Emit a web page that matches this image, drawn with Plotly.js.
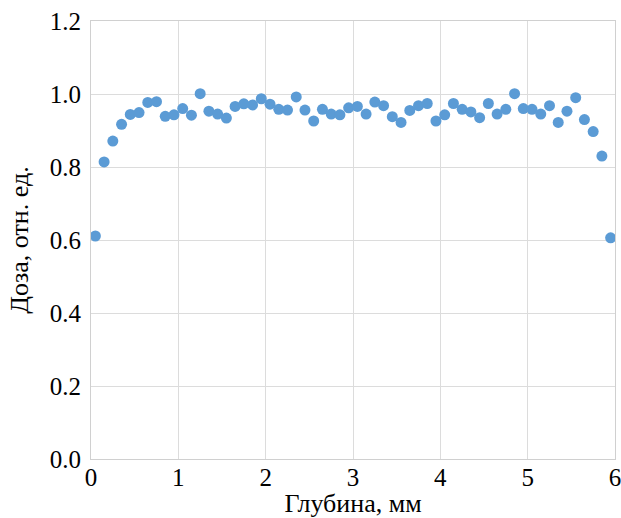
<!DOCTYPE html>
<html>
<head>
<meta charset="utf-8">
<script src="https://cdn.plot.ly/plotly-3.0.1.min.js"></script>
<style>html,body{margin:0;padding:0;background:#fff;}</style>
</head>
<body>
<div id="chart" style="width:621px;height:518px;"></div>
<script>
const depth = [0.05,0.15,0.25,0.35,0.45,0.55,0.65,0.75,0.85,0.95,
  1.05,1.15,1.25,1.35,1.45,1.55,1.65,1.75,1.85,1.95,
  2.05,2.15,2.25,2.35,2.45,2.55,2.65,2.75,2.85,2.95,
  3.05,3.15,3.25,3.35,3.45,3.55,3.65,3.75,3.85,3.95,
  4.05,4.15,4.25,4.35,4.45,4.55,4.65,4.75,4.85,4.95,
  5.05,5.15,5.25,5.35,5.45,5.55,5.65,5.75,5.85,5.95];
const dose = [0.611,0.814,0.871,0.917,0.944,0.949,0.977,0.979,0.939,0.943,
  0.960,0.942,1.001,0.953,0.945,0.934,0.966,0.973,0.970,0.987,
  0.972,0.958,0.956,0.992,0.956,0.926,0.958,0.945,0.943,0.962,
  0.966,0.945,0.978,0.968,0.938,0.922,0.955,0.968,0.974,0.926,
  0.943,0.974,0.958,0.951,0.935,0.974,0.945,0.958,1.001,0.960,
  0.958,0.945,0.968,0.922,0.953,0.990,0.930,0.897,0.830,0.606];
const xTitle = "Глубина, мм";
const yTitle = "Доза, отн. ед.";

const fam = "'Liberation Serif', 'Times New Roman', Times, serif";
const tickFont = {family: fam, color: "#000", size: 25};
const titleFont = {family: fam, color: "#000", size: 26};

Plotly.newPlot("chart", [{
  x: depth, y: dose, type: "scatter", mode: "markers",
  marker: {color: "#5b9bd5", size: 11}
}], {
  width: 621, height: 518,
  margin: {l: 91, r: 6, t: 21, b: 59},
  paper_bgcolor: "#fff", plot_bgcolor: "#fff",
  showlegend: false,
  font: tickFont,
  xaxis: {
    range: [0, 6], dtick: 1, tick0: 0,
    showgrid: true, gridcolor: "#dcdcdc", gridwidth: 1,
    zeroline: false, showline: true, mirror: true, linecolor: "#d0d0d0", linewidth: 1,
    ticks: "", tickfont: tickFont, ticklabelstandoff: -4, ticklabeloverflow: "allow",
    title: {text: xTitle, font: titleFont, standoff: 0}
  },
  yaxis: {
    range: [0, 1.2], dtick: 0.2, tick0: 0, tickformat: ".1f",
    showgrid: true, gridcolor: "#dcdcdc", gridwidth: 1,
    zeroline: false, showline: true, mirror: true, linecolor: "#d0d0d0", linewidth: 1,
    ticks: "", tickfont: tickFont, ticklabelstandoff: 4,
    title: {text: yTitle, font: titleFont, standoff: 13}
  }
}, {displayModeBar: false, staticPlot: true});
</script>
</body>
</html>
